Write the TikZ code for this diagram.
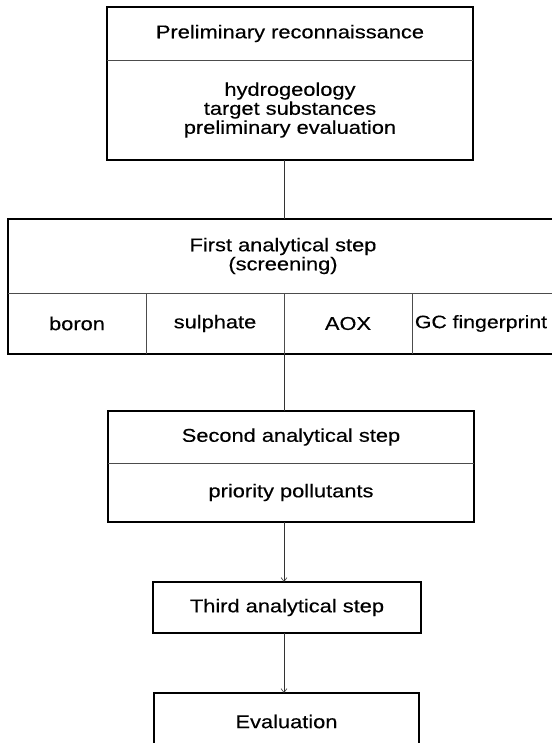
\documentclass[tikz,border=0pt]{standalone}
\usepackage{fontspec}
\setmainfont{Liberation Sans}[FakeStretch=1.18, FakeBold=0.4]
\usetikzlibrary{positioning, arrows.meta}
\tikzstyle{box} = [
    rectangle,
    inner sep=0pt,
    outer sep=0pt,
    align=center,
    font=\fontsize{18.5}{19}\selectfont
]
\tikzstyle{frame} = [line width=1.1pt]
\tikzstyle{divider} = [line width=0.5pt, black!70]
\tikzstyle{link} = [line width=0.6pt, black!80]
\tikzstyle{arrow} = [link, -{Straight Barb[length=4pt, width=6pt]}]

\begin{document}
\begin{tikzpicture}[x=1pt, y=-1pt]
\useasboundingbox (0,0) rectangle (551,743);

\node (prelim) [box, anchor=north west, minimum width=366pt, minimum height=53pt] at (107,7)
{Preliminary reconnaissance};

\node (prelimbody) [box, below=0pt of prelim, minimum width=366pt, minimum height=100pt]
{hydrogeology\\target substances\\preliminary evaluation};

\node (first) [box, anchor=north west, minimum width=550pt, minimum height=74pt] at (8,219)
{First analytical step\\(screening)};

\node (boron) [box, anchor=north west, minimum width=138pt, minimum height=61pt] at (first.south west)
{boron};

\node (sulphate) [box, right=0pt of boron, minimum width=138pt, minimum height=61pt]
{sulphate};

\node (aox) [box, right=0pt of sulphate, minimum width=128pt, minimum height=61pt]
{AOX};

\node (gc) [box, right=0pt of aox, minimum width=138pt, minimum height=61pt, font=\fontsize{18}{19}\selectfont]
{GC fingerprint};

\node (second) [box, anchor=north west, minimum width=366pt, minimum height=52pt] at (108,411)
{Second analytical step};

\node (secondbody) [box, below=0pt of second, minimum width=366pt, minimum height=59pt]
{priority pollutants};

\node (third) [box, anchor=north west, minimum width=268pt, minimum height=51pt] at (153,582)
{Third analytical step};

\node (evaluation) [box, anchor=north west, minimum width=265pt, minimum height=57pt] at (154,693)
{Evaluation};

\draw [frame] (prelim.north west) rectangle (prelimbody.south east);
\draw [divider] (prelim.south west) -- (prelim.south east);
\draw [frame] (first.north west) rectangle ([xshift=8pt]gc.south east);
\draw [divider] (first.south west) -- (first.south east);
\foreach \cell in {boron, sulphate, aox}
    \draw [divider] (\cell.north east) -- (\cell.south east);
\draw [frame] (second.north west) rectangle (secondbody.south east);
\draw [divider] (second.south west) -- (second.south east);
\draw [frame] (third.north west) rectangle (third.south east);
\draw [frame] (evaluation.north west) rectangle (evaluation.south east);

\draw [link] (prelimbody.south -| aox.west) -- (first.north -| aox.west);
\draw [link] (aox.south west) -- (second.north -| aox.west);
\draw [arrow] (secondbody.south -| aox.west) -- (third.north -| aox.west);
\draw [arrow] (third.south -| aox.west) -- (evaluation.north -| aox.west);

\end{tikzpicture}
\end{document}
